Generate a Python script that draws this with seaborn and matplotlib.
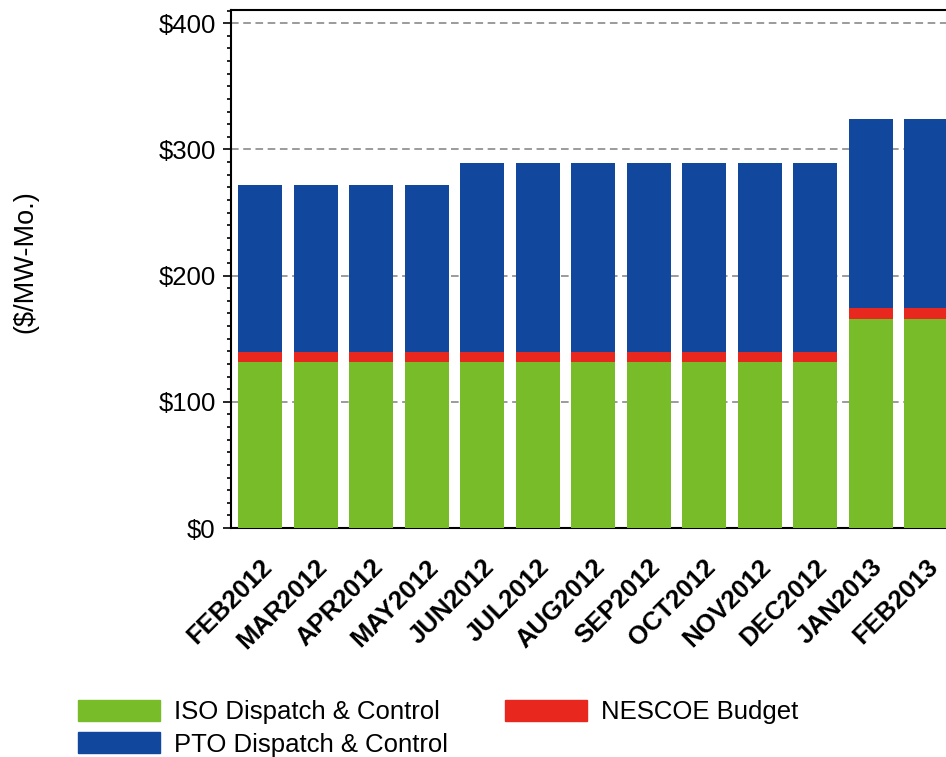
import matplotlib
matplotlib.use("Agg")
import matplotlib.pyplot as plt
import matplotlib.transforms as mtransforms
import seaborn as sns
import pandas as pd
from matplotlib.ticker import MultipleLocator, FuncFormatter
from matplotlib.patches import Patch

months = ["FEB2012", "MAR2012", "APR2012", "MAY2012", "JUN2012", "JUL2012",
          "AUG2012", "SEP2012", "OCT2012", "NOV2012", "DEC2012", "JAN2013", "FEB2013"]
iso = [131.6, 131.6, 131.6, 131.6, 131.6, 131.6, 131.6, 131.6, 131.6, 131.6, 131.6, 165.6, 165.6]
nescoe = [8.0, 8.0, 8.0, 8.0, 8.0, 8.0, 8.0, 8.0, 8.0, 8.0, 8.0, 8.8, 8.8]
pto = [132.2, 132.2, 132.2, 132.2, 149.6, 149.6, 149.6, 149.6, 149.6, 149.6, 149.6, 149.7, 149.7]

c_iso = "#78BC2A"
c_nes = "#E8281E"
c_pto = "#11479C"

df = pd.DataFrame({"month": months, "iso": iso, "nescoe": nescoe, "pto": pto})
df["lvl_red"] = df["iso"] + df["nescoe"]
df["lvl_blue"] = df["lvl_red"] + df["pto"]

sns.set_style("white")
plt.rcParams["font.family"] = ["Liberation Sans", "DejaVu Sans"]
plt.rcParams["text.color"] = "black"
plt.rcParams["xtick.color"] = "black"
plt.rcParams["ytick.color"] = "black"
plt.rcParams["axes.labelcolor"] = "black"

W, H = 946, 757
fig = plt.figure(figsize=(W / 100, H / 100), dpi=100)
ax = fig.add_axes([231 / W, 1 - 528 / H, (1000 - 231) / W, (528 - 10) / H])

for col, colr in [("lvl_blue", c_pto), ("lvl_red", c_nes), ("iso", c_iso)]:
    sns.barplot(data=df, x="month", y=col, color=colr, width=0.793,
                saturation=1, ax=ax, zorder=3, linewidth=0)

ax.set_xlim(-0.523, -0.523 + 769 / 55.5)
ax.set_ylim(0, 410.5)
ax.yaxis.set_major_locator(MultipleLocator(100))
ax.yaxis.set_minor_locator(MultipleLocator(10))
ax.yaxis.set_major_formatter(FuncFormatter(lambda v, p: f"${int(v)}"))
ax.grid(axis="y", which="major", color="#808080", linestyle=(0, (5, 3)), linewidth=1.1, zorder=0)
ax.set_axisbelow(True)

for s in ["left", "top", "bottom"]:
    ax.spines[s].set_color("black")
    ax.spines[s].set_linewidth(1.5)
ax.spines["right"].set_visible(False)

ax.tick_params(axis="y", which="major", left=True, length=6, width=1.2, labelsize=18.5, pad=5,
               color="black", labelcolor="black")
ax.tick_params(axis="y", which="minor", left=True, length=3, width=1.2, color="black")
ax.tick_params(axis="x", length=0, pad=25.5, labelsize=18.5, labelcolor="black")
ax.set_xlabel("")
ax.set_ylabel("")
offset = mtransforms.ScaledTranslation(8 / 100, 0, fig.dpi_scale_trans)
for lab in ax.get_xticklabels():
    lab.set_rotation(45)
    lab.set_ha("right")
    lab.set_va("center")
    lab.set_rotation_mode("anchor")
    lab.set_fontweight("bold")
    lab.set_transform(lab.get_transform() + offset)

fig.text(25 / W, 1 - 262 / H, "($/MW-Mo.)", rotation=90, ha="center", va="center", fontsize=19.5,
         color="black")

handles = [Patch(color=c_iso, label="ISO Dispatch & Control"),
           Patch(color=c_pto, label="PTO Dispatch & Control"),
           Patch(color=c_nes, label="NESCOE Budget")]
leg = fig.legend(handles=handles, loc="upper left", bbox_to_anchor=(78 / W, 1 - 700 / H),
                 ncol=2, frameon=False, fontsize=18.5, handlelength=3.2, handleheight=0.86,
                 handletextpad=0.55, columnspacing=2.2, labelspacing=0.32, borderpad=0,
                 borderaxespad=0)
for t in leg.get_texts():
    t.set_color("black")

fig.savefig("out.png", dpi=100)
